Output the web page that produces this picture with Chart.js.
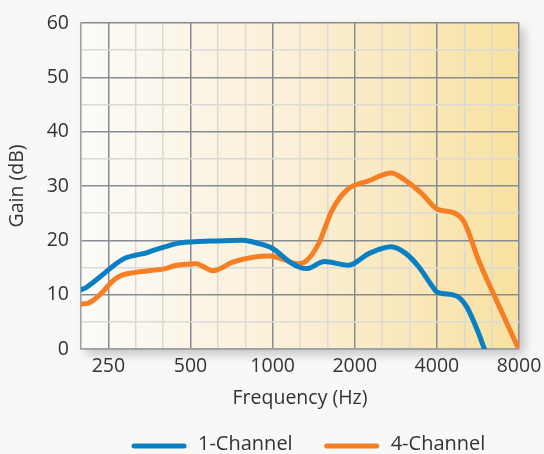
<!DOCTYPE html>
<html>
<head>
<meta charset="utf-8">
<script src="https://cdn.jsdelivr.net/npm/chart.js@4.4.1/dist/chart.umd.min.js"></script>
<style>
  html, body { margin: 0; padding: 0; background: #f8f8f6; }
  #wrap { position: relative; width: 544px; height: 454px; }
</style>
</head>
<body>
<div id="wrap"><canvas id="chart"></canvas></div>
<script>
  // frequency (Hz) / gain (dB)
  var freqBlue = [196, 207, 219, 232, 245, 259, 274, 290, 316, 345, 373, 408, 443, 500, 622, 777, 890, 1000, 1156, 1262, 1330, 1548, 1896, 2262, 2719, 3073, 3437, 3830, 4000, 4698, 5140, 5625, 5976];
  var gainBlue = [10.8, 11.3, 12.2, 13.2, 14.2, 15.2, 16.1, 16.8, 17.3, 17.7, 18.3, 18.9, 19.4, 19.7, 19.9, 20.0, 19.4, 18.5, 16.0, 15.0, 14.8, 16.1, 15.4, 17.6, 18.8, 17.6, 15.1, 11.7, 10.5, 9.8, 7.8, 3.5, 0];
  var freqOrange = [201, 210, 219, 228, 238, 249, 259, 270, 281, 297, 325, 363, 395, 444, 526, 555, 604, 714, 848, 975, 1094, 1230, 1310, 1475, 1650, 1865, 2262, 2719, 3073, 3525, 4000, 4698, 5033, 5693, 6608, 7875];
  var gainOrange = [8.3, 8.4, 8.9, 9.6, 10.5, 11.6, 12.5, 13.2, 13.6, 13.9, 14.2, 14.5, 14.7, 15.4, 15.7, 15.2, 14.4, 16.0, 16.9, 17.1, 16.5, 15.7, 16.0, 19.4, 25.5, 29.2, 31.0, 32.4, 31.0, 28.6, 25.8, 24.9, 23.4, 16.3, 9.0, 0.6];

  var xLabels = [250, 500, 1000, 2000, 4000, 8000];
  var xGrid = [198.4, 250, 315, 396.9, 500, 630, 793.7, 1000, 1260, 1587, 2000, 2520, 3175, 4000, 5040, 6350, 8000];
  var yLabels = [0, 10, 20, 30, 40, 50, 60];
  var yGrid = [0, 5, 10, 15, 20, 25, 30, 35, 40, 45, 50, 55, 60];

  var BLUE = "#0b7fc4", ORANGE = "#f47f24";
  var MAJOR = "#878c92", MINOR = "#dcdad4";
  var FONT = "'Open Sans'";
  var FS = 19.5;

  Chart.defaults.font.family = FONT;
  Chart.defaults.color = "#333";

  function pts(xs, ys) {
    return xs.map(function (x, i) { return { x: x, y: ys[i] }; });
  }

  /* gradient panel with a soft drop shadow behind the grid */
  var panel = {
    id: "panel",
    beforeDraw: function (chart) {
      var a = chart.chartArea, ctx = chart.ctx;
      var g = ctx.createLinearGradient(a.left, 0, a.right, 0);
      g.addColorStop(0, "#fcfbf9");
      g.addColorStop(0.5, "#fbefd5");
      g.addColorStop(1, "#f8e1a0");
      ctx.save();
      ctx.shadowColor = "rgba(0,0,0,0.22)";
      ctx.shadowBlur = 10;
      ctx.shadowOffsetX = 5;
      ctx.shadowOffsetY = 5;
      ctx.fillStyle = g;
      ctx.fillRect(a.left, a.top, a.right - a.left, a.bottom - a.top);
      ctx.restore();
    }
  };

  /* legend: thick rounded line + label, drawn below the axis title */
  var lineLegend = {
    id: "lineLegend",
    afterDraw: function (chart) {
      var ctx = chart.ctx, x = 132, y = 444;
      ctx.save();
      ctx.font = "20px " + FONT;
      ctx.textBaseline = "middle";
      chart.data.datasets.forEach(function (d) {
        ctx.strokeStyle = d.borderColor;
        ctx.lineWidth = 5;
        ctx.lineCap = "round";
        ctx.beginPath();
        ctx.moveTo(x + 2, y + 2);
        ctx.lineTo(x + 52, y + 2);
        ctx.stroke();
        ctx.fillStyle = "#333";
        ctx.fillText(d.label, x + 66, y);
        x += 66 + ctx.measureText(d.label).width + 32;
      });
      ctx.restore();
    }
  };

  new Chart(document.getElementById("chart"), {
    type: "line",
    data: {
      datasets: [
        { label: "1-Channel", data: pts(freqBlue, gainBlue), borderColor: BLUE, borderWidth: 5,
          pointRadius: 0, cubicInterpolationMode: "monotone", borderCapStyle: "round", borderJoinStyle: "round" },
        { label: "4-Channel", data: pts(freqOrange, gainOrange), borderColor: ORANGE, borderWidth: 5,
          pointRadius: 0, cubicInterpolationMode: "monotone", borderCapStyle: "round", borderJoinStyle: "round" }
      ]
    },
    options: {
      responsive: true,
      maintainAspectRatio: false,
      animation: false,
      layout: { padding: { top: 23, right: 25, bottom: 39, left: 0 } },
      plugins: { legend: { display: false }, tooltip: { enabled: false } },
      scales: {
        x: {
          type: "logarithmic", min: 198.4, max: 8000,
          afterBuildTicks: function (s) { s.ticks = xGrid.map(function (v) { return { value: v }; }); },
          afterFit: function (s) { s.height = 66; s.paddingLeft = 0; s.paddingRight = 0; },
          ticks: {
            autoSkip: false, maxRotation: 0, minRotation: 0, padding: 6, font: { size: FS },
            callback: function (v) { return xLabels.indexOf(v) >= 0 ? String(v) : ""; }
          },
          grid: {
            drawTicks: false, lineWidth: 1.5,
            color: function (c) { return c.tick && xLabels.indexOf(c.tick.value) >= 0 ? MAJOR : MINOR; }
          },
          border: { color: "#9da1a6", width: 1.5 },
          title: { display: true, text: "Frequency (Hz)", font: { size: FS }, padding: { top: 0, bottom: 5 } }
        },
        y: {
          min: 0, max: 60,
          afterBuildTicks: function (s) { s.ticks = yGrid.map(function (v) { return { value: v }; }); },
          afterFit: function (s) { s.width = 81; s.paddingTop = 0; s.paddingBottom = 0; },
          ticks: {
            autoSkip: false, padding: 12, font: { size: FS },
            callback: function (v) { return yLabels.indexOf(v) >= 0 ? String(v) : ""; }
          },
          grid: {
            drawTicks: false, lineWidth: 1.5,
            color: function (c) { return c.tick && yLabels.indexOf(c.tick.value) >= 0 ? MAJOR : MINOR; }
          },
          border: { color: "#9da1a6", width: 1.5 },
          title: { display: true, text: "Gain (dB)", font: { size: FS }, padding: { top: 6, bottom: 0 } }
        }
      }
    },
    plugins: [panel, lineLegend]
  });
</script>
</body>
</html>
